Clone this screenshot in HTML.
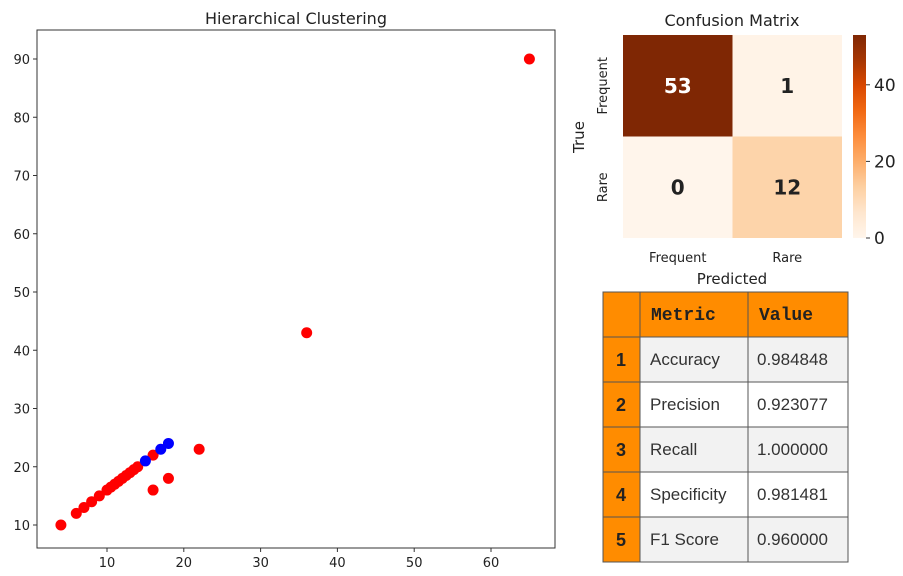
<!DOCTYPE html>
<html><head><meta charset="utf-8"><style>
body{margin:0;background:#fff;width:903px;height:576px;overflow:hidden;font-family:"Liberation Sans","DejaVu Sans",sans-serif}
svg{position:absolute;left:0;top:0}
text{font-family:"DejaVu Sans","Liberation Sans",sans-serif;fill:#222}
</style></head><body>
<svg width="903" height="576">
<g id="scatter"></g>
<g id="heat"></g>
<g id="table"></g>
</svg>
<script>
const xs=[4,6,7,8,9,10,10.5,11,11.5,12,12.5,13,13.5,14,16,16,18,22,36,65,15,17,18];
const ys=[10,12,13,14,15,16,16.5,17,17.5,18,18.5,19,19.5,20,22,16,18,23,43,90,21,23,24];
const clusters=[0,0,0,0,0,0,0,0,0,0,0,0,0,0,0,0,0,0,0,0,1,1,1];
const xTicks=[10,20,30,40,50,60];
const yTicks=[10,20,30,40,50,60,70,80,90];
const cmRows=["Frequent","Rare"];
const cmCols=["Frequent","Rare"];
const cmValues=[[53,1],[0,12]];
const cbTicks=[0,20,40];
const metricNames=["Accuracy","Precision","Recall","Specificity","F1 Score"];
const metricValues=["0.984848","0.923077","1.000000","0.981481","0.960000"];

const NS="http://www.w3.org/2000/svg";
function mk(p,t,a,txt){const e=document.createElementNS(NS,t);for(const k in a)e.setAttribute(k,a[k]);if(txt!==undefined)e.textContent=txt;p.appendChild(e);return e;}
// scatter
const sg=document.getElementById('scatter');
const L=37,R=555,T=30,B=548;
const sx=v=>30.2+v*7.68, sy=v=>583.25-v*5.825;
let t=mk(sg,'text',{x:296,y:24,'text-anchor':'middle','font-size':16},'Hierarchical Clustering');

let ax=mk(sg,'rect',{x:L,y:T,width:R-L,height:B-T,fill:'none',stroke:'#333','stroke-width':1});

xTicks.forEach(v=>{mk(sg,'line',{x1:sx(v),x2:sx(v),y1:B,y2:B+4,stroke:'#333'});
 const e=mk(sg,'text',{x:sx(v),y:B+19,'text-anchor':'middle','font-size':13},v);
 });
yTicks.forEach(v=>{mk(sg,'line',{x1:L-4,x2:L,y1:sy(v),y2:sy(v),stroke:'#333'});
 const e=mk(sg,'text',{x:L-7,y:sy(v)+5,'text-anchor':'end','font-size':13},v);
 });
xs.forEach((x,i)=>{const c=mk(sg,'circle',{cx:sx(x),cy:sy(ys[i]),r:5.5,fill:clusters[i]?'#0000ff':'#ff0000'});
 });
// heatmap
const hg=document.getElementById('heat');
const hx0=623,hy0=35,cw=109.5,ch=101.5,vmax=53;
const stops=[[255,245,235],[254,230,206],[253,208,162],[253,174,107],[253,141,60],[241,105,19],[217,72,1],[166,54,3],[127,39,4]];
function col(v){const f=Math.max(0,Math.min(1,v/vmax))*8;const i=Math.min(7,Math.floor(f));const k=f-i;
 const c=stops[i].map((q,j)=>q+(stops[i+1][j]-q)*k);return `rgb(${c.map(Math.round).join(',')})`;}
t=mk(hg,'text',{x:732,y:26,'text-anchor':'middle','font-size':16},'Confusion Matrix');

cmValues.forEach((row,r)=>row.forEach((v,c)=>{
 const e=mk(hg,'rect',{x:hx0+c*cw,y:hy0+r*ch,width:cw,height:ch,fill:col(v)});
 
 const tx=mk(hg,'text',{x:hx0+c*cw+cw/2,y:hy0+r*ch+ch/2+7,'text-anchor':'middle','font-size':20,'font-weight':'bold'},v);
 tx.style.fill=v/vmax>0.5?'#fff':'#222';
 }));
cmCols.forEach((n,i)=>{const e=mk(hg,'text',{x:hx0+i*cw+cw/2,y:262,'text-anchor':'middle','font-size':13},n);
 });
cmRows.forEach((n,i)=>{const y=hy0+i*ch+ch/2;const e=mk(hg,'text',{x:607,y:y,'text-anchor':'middle','font-size':13,transform:`rotate(-90 607 ${y})`},n);
 });
t=mk(hg,'text',{x:732,y:284,'text-anchor':'middle','font-size':15},'Predicted');

t=mk(hg,'text',{x:584,y:137,'text-anchor':'middle','font-size':15,transform:'rotate(-90 584 137)'},'True');

const defs=mk(hg,'defs',{});const lg=mk(defs,'linearGradient',{id:'cb',x1:0,y1:1,x2:0,y2:0});
for(let i=0;i<=16;i++)mk(lg,'stop',{offset:i/16,'stop-color':col(vmax*i/16)});
const cbTop=35,cbBot=238,cby=v=>cbBot-(cbBot-cbTop)*v/vmax;
t=mk(hg,'rect',{x:853,y:cbTop,width:13,height:cbBot-cbTop,fill:'url(#cb)'});

cbTicks.forEach(v=>{mk(hg,'line',{x1:866,x2:870,y1:cby(v),y2:cby(v),stroke:'#333'});
 const e=mk(hg,'text',{x:874,y:cby(v)+6,'font-size':17},v);
 });
// table
const tg=document.getElementById('table');
const cx=[603,640,748,848],ty0=292,hh=45,rh=45;
function cell(x,y,w,h,fill){const e=mk(tg,'rect',{x,y,width:w,height:h,fill,stroke:'#555','stroke-width':1});return e;}
[0,1,2].forEach(i=>{const e=cell(cx[i],ty0,cx[i+1]-cx[i],hh,'#ff8c00');});
[['Metric',651],['Value',759]].forEach(([s,x])=>{const e=mk(tg,'text',{x:x,y:ty0+28,'font-size':18,'font-weight':'bold'},s);
 e.style.fontFamily='"Liberation Mono",monospace';});
metricNames.forEach((n,i)=>{const y=ty0+hh+i*rh;
 let e=cell(cx[0],y,cx[1]-cx[0],rh,'#ff8c00');
 e=cell(cx[1],y,cx[2]-cx[1],rh,i%2?'#ffffff':'#f2f2f2');
 e=cell(cx[2],y,cx[3]-cx[2],rh,i%2?'#ffffff':'#f2f2f2');
 e=mk(tg,'text',{x:621,y:y+29,'text-anchor':'middle','font-size':18,'font-weight':'bold'},i+1);
 e.style.fontFamily='"Liberation Sans",sans-serif';
 e=mk(tg,'text',{x:650,y:y+28,'font-size':17},n);
 e.style.fontFamily='"Liberation Sans",sans-serif';e.style.fill='#333';
 e=mk(tg,'text',{x:757,y:y+28,'font-size':17},metricValues[i]);
 e.style.fontFamily='"Liberation Sans",sans-serif';e.style.fill='#333';
});
</script>
</body></html>
